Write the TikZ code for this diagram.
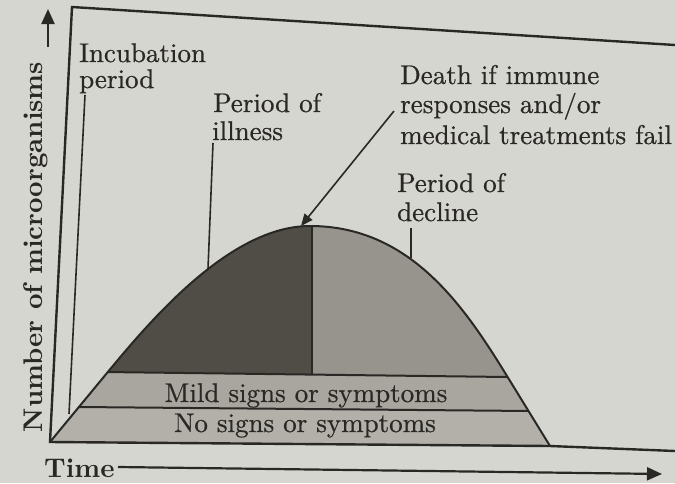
\documentclass[tikz,border=0pt]{standalone}
\usepackage{fontspec}
\newfontfamily\bodyfont{lmroman10-regular.otf}[FakeBold=0.6]
\newfontfamily\axisfont{lmroman10-bold.otf}
\usetikzlibrary{arrows.meta}
\definecolor{bgc}{RGB}{214,214,209}
\definecolor{darkc}{RGB}{80,77,70}
\definecolor{rightc}{RGB}{150,148,141}
\definecolor{mildc}{RGB}{168,166,159}
\definecolor{nonec}{RGB}{178,176,169}
\definecolor{inkc}{RGB}{42,40,37}
\begin{document}
\begin{tikzpicture}[x=1pt,y=-1pt,
  lbl/.style={anchor=base west, inner sep=0pt, text=inkc, font=\bodyfont\fontsize{27}{30}\selectfont},
  bandlbl/.style={anchor=base, inner sep=0pt, text=inkc, font=\bodyfont\fontsize{27}{30}\selectfont},
  axlbl/.style={inner sep=0pt, text=inkc, font=\axisfont\fontsize{27}{30}\selectfont},
  frameline/.style={draw=inkc, line width=2.4pt},
  pointer/.style={draw=inkc, line width=1.6pt},
  outline/.style={draw=inkc, line width=2pt},
  axarrow/.style={draw=inkc, line width=2.2pt, -{Triangle[length=15pt,width=13pt]}},
  ptarrow/.style={draw=inkc, line width=1.6pt, -{Triangle[length=12pt,width=10pt]}}]
\fill[bgc] (0,0) rectangle (675,483);
\useasboundingbox (0,0) rectangle (675,483);

% key points
\coordinate (bl) at (50,442);
\coordinate (ml) at (107,373);
\coordinate (pk) at (310,226);
\coordinate (mr) at (507,376);
\coordinate (br) at (550,446);
\coordinate (rb) at (675,451);
\coordinate (ft) at (72,7);
\coordinate (fr) at (675,45);

\def\hump{(bl) -- (ml) .. controls (150,321) and (230,226) .. (pk) .. controls (410,226) and (464,306) .. (mr) -- (br) -- cycle}

% bands
\fill[nonec] \hump;
\begin{scope}
  \clip \hump;
  \fill[mildc] (0,0) -- (700,0) -- (700,412.5) -- (0,406.3) -- cycle;
  \fill[darkc] (0,0) -- (312,0) -- (312,374.6) -- (0,370.7) -- cycle;
  \fill[rightc] (312,0) -- (700,0) -- (700,379.4) -- (312,374.6) -- cycle;
  \draw[outline] (0,370.7) -- (700,379.4);
  \draw[outline] (0,406.3) -- (700,412.5);
  \draw[outline] (312,200) -- (312,374.6);
\end{scope}
\draw[outline] (bl) -- (ml) .. controls (150,321) and (230,226) .. (pk) .. controls (410,226) and (464,306) .. (mr) -- (br);

% frame
\draw[frameline] (fr) -- (ft) -- (bl) -- (br) -- (rb);

% band labels
\node[bandlbl] (mild) at (306,402) {Mild signs or symptoms};
\node[bandlbl] (none) at (305,432) {No signs or symptoms};

% labels
\node[lbl] (inc1) at (79,62) {Incubation};
\node[lbl] (inc2) at (79,88) {period};
\node[lbl] (ill1) at (213,112) {Period of};
\node[lbl] (ill2) at (212,140) {illness};
\node[lbl] (dth1) at (400,84) {Death if immune};
\node[lbl] (dth2) at (400,113) {responses and/or};
\node[lbl] (dth3) at (400,144) {medical treatments fail};
\node[lbl] (dec1) at (397,192) {Period of};
\node[lbl] (dec2) at (397,221) {decline};

% pointer lines
\coordinate (incTop) at (85,95);
\coordinate (incBot) at (69,414);
\coordinate (illTop) at (213,143);
\coordinate (illBot) at (208,269);
\coordinate (decTop) at (411,228);
\coordinate (decBot) at (411,258);
\coordinate (dthTop) at (394,111);
\coordinate (dthBot) at (301,226);
\draw[pointer] (incTop) -- (incBot);
\draw[pointer] (illTop) -- (illBot);
\draw[pointer] (decTop) -- (decBot);
\draw[ptarrow] (dthTop) -- (dthBot);

% axes labels
\node[axlbl, rotate=90] (ylab) at (36,247) {Number of microorganisms};
\coordinate (yarA) at (48,47);
\coordinate (yarB) at (48,9);
\draw[axarrow] (yarA) -- (yarB);
\node[axlbl, anchor=base west] (tlab) at (44,477) {Time};
\coordinate (tarA) at (118,467);
\coordinate (tarB) at (662,474);
\draw[axarrow] (tarA) -- (tarB);
\end{tikzpicture}
\end{document}
